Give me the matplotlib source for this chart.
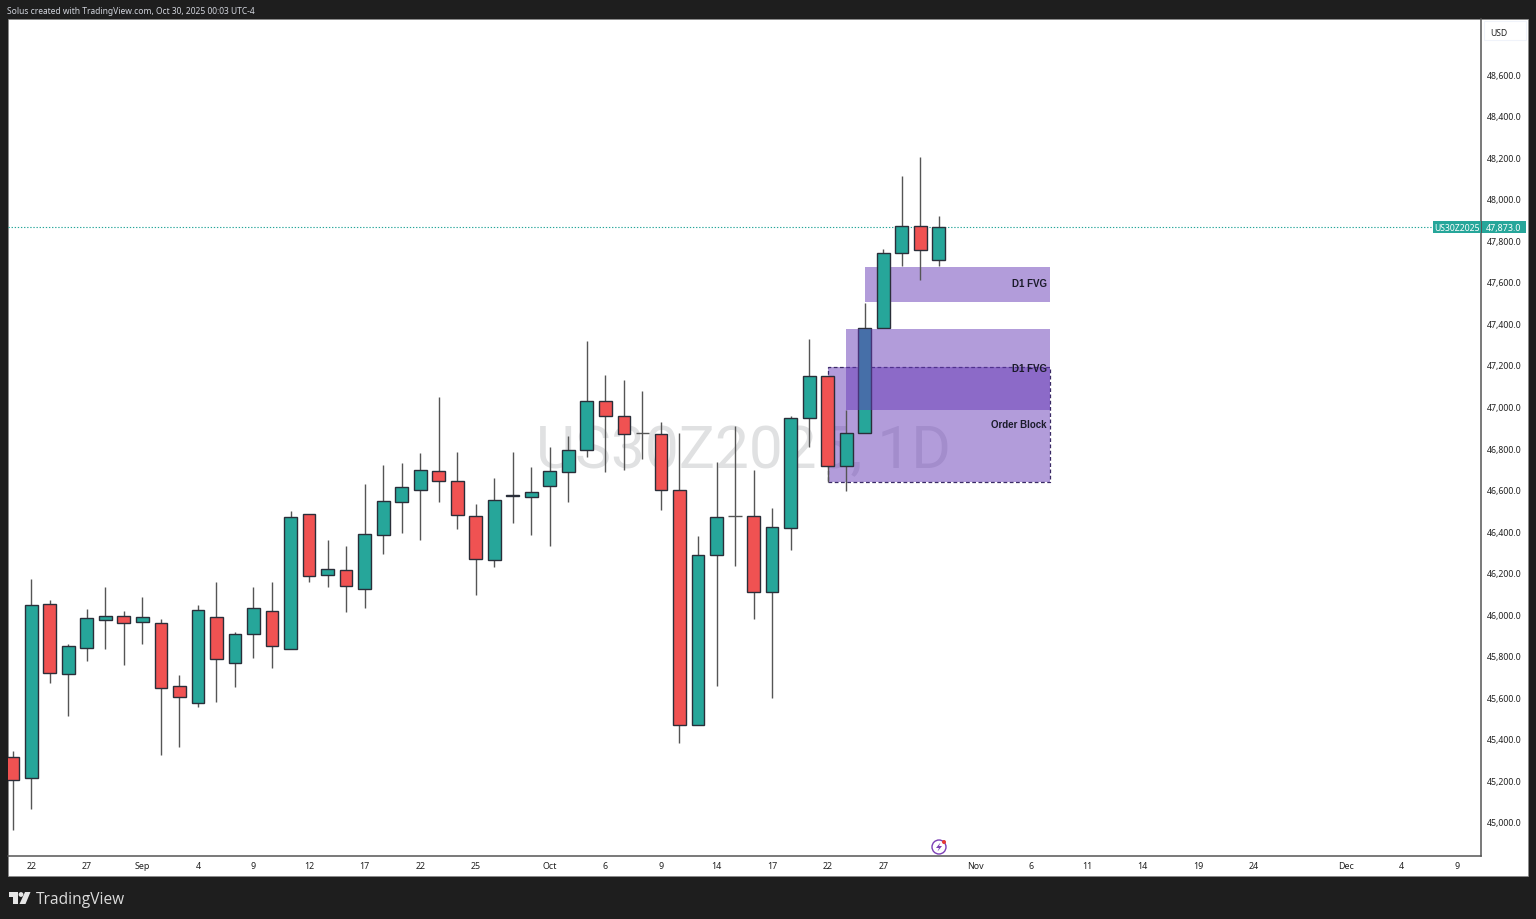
import matplotlib
matplotlib.use("Agg")
import matplotlib.pyplot as plt
from matplotlib.patches import Rectangle, Circle, Polygon
from matplotlib.transforms import Affine2D, ScaledTranslation, blended_transform_factory

# ---- data ----
first_index = -1
opens  = [45318,45217,46055,45718,45843,45978,45997,45968,45963,45660,45578,45992,45771,45910,46021,45838,46488,46195,46219,46127,46387,46546,46604,46695,46647,46479,46267,46575,46570,46623,46691,46796,47032,46960,46876,46874,46604,45472,46291,46479,46479,46113,46421,46951,47153,46719,46878,47384,47745,47875,47711]
highs  = [45347,46175,46074,45862,46031,46137,46021,46089,45983,45713,46050,46161,45920,46137,46161,46503,46488,46363,46334,46633,46724,46734,46782,47052,46787,46536,46662,46787,46715,46811,46864,47321,47158,47134,47081,46931,46878,46382,46739,46912,46700,46517,46960,47331,47153,46989,47504,47764,48116,48207,47923]
lows   = [44966,45068,45674,45516,45780,45838,45761,45862,45328,45366,45559,45583,45655,45795,45747,45838,46161,46137,46016,46036,46296,46397,46363,46546,46416,46098,46233,46445,46387,46334,46546,46763,46691,46700,46753,46508,45385,45472,45660,46238,45983,45602,46315,46811,46642,46599,46878,47384,47683,47615,47683]
closes = [45207,46050,45722,45853,45987,45997,45963,45992,45650,45607,46026,45790,45910,46036,45853,46474,46190,46224,46141,46392,46551,46618,46700,46647,46484,46272,46556,46580,46594,46695,46796,47032,46960,46874,46876,46604,45472,46291,46474,46479,46113,46426,46951,47153,46719,46878,47384,47745,47875,47760,47868]
time_ticks  = [0,3,6,9,12,15,18,21,24,28,31,34,37,40,43,46,51,54,57,60,63,66,71,74,77]
time_labels = ["22","27","Sep","4","9","12","17","22","25","Oct","6","9","14","17","22","27","Nov","6","11","14","19","24","Dec","4","9"]
price_ticks = list(range(45000, 48601, 200))
last_price = 47873
last_line_level = 47868
symbol = "US30Z2025"
fvg_upper = (45, 55, 47507, 47678)
fvg_lower = (44, 55, 46989, 47381)
order_block = (43, 55, 46642, 47196)

# ---- style ----
GREEN, RED = "#26a69a", "#f05252"
EDGE, WICK = "#2a2e39", "#555555"
ZONE = "#673ab7"
DARK = "#1e1e1e"
FONT = ["Noto Sans", "DejaVu Sans"]
plt.rcParams["font.family"] = FONT

W, H = 1536, 920
fig = plt.figure(figsize=(W/100, H/100), dpi=100, facecolor=DARK)
px = Affine2D().scale(1/W, -1/H).translate(0, 1) + fig.transFigure
fig.add_artist(Rectangle((8, 20), 1520, 857, transform=px, fc="white", ec="#8a8a8a", lw=0.5, zorder=-1))

ax = fig.add_axes([8/W, 1-857/H, (1481-8)/W, (857-20)/H], facecolor="none", zorder=1)
ax.set_xlim(-1.255, 78.275)
ax.set_ylim(44841, 48872)
for s in ("top", "left"):
    ax.spines[s].set_visible(False)
for s in ("bottom", "right"):
    ax.spines[s].set_color("#555555")
    ax.spines[s].set_linewidth(1.1)

ax.set_xticks(time_ticks, time_labels)
ax.yaxis.tick_right()
ax.set_yticks(price_ticks, [f"{p:,.1f}" for p in price_ticks])
ax.tick_params(axis="x", length=0, pad=3.8, labelsize=6.4, labelcolor="#222222")
ax.tick_params(axis="y", length=0, pad=4.2, labelsize=6.3, labelcolor="#222222")
up = ScaledTranslation(0, 1.2/100, fig.dpi_scale_trans)
for lab in ax.get_yticklabels():
    lab.set_transform(lab.get_transform() + up)

# watermark
ax.text(0.4995, 46795, f"{symbol}, 1D", transform=blended_transform_factory(ax.transAxes, ax.transData),
        ha="center", va="center", fontsize=43.5, color="#e0e1e2", family="Roboto", zorder=1)

# zones
def zone(z, order):
    ax.add_patch(Rectangle((z[0], z[2]), z[1]-z[0], z[3]-z[2], fc=matplotlib.colors.to_rgba(ZONE, 0.5), lw=0, zorder=order))
zone(order_block, 2)
ax.add_patch(Rectangle((order_block[0], order_block[2]), order_block[1]-order_block[0], order_block[3]-order_block[2],
                       fc="none", ec="#3a2a66", lw=0.9, ls=(0, (3, 2)), zorder=2.1))
zone(fvg_upper, 2)
zone(fvg_lower, 6)

# price line
ax.axhline(last_line_level, xmax=(1433-8)/(1481-8), color=GREEN, lw=0.8, ls=(0, (1.2, 1.6)), zorder=1.5)

# candles
x = [first_index + k for k in range(len(opens))]
colors = [GREEN if c >= o else RED for o, c in zip(opens, closes)]
ax.vlines(x, lows, highs, color=WICK, lw=1.0, zorder=3)
bottoms = [min(o, c) for o, c in zip(opens, closes)]
heights = [abs(c-o) for o, c in zip(opens, closes)]
for xi, b, h, col in zip(x, bottoms, heights, colors):
    ax.bar(xi, h, bottom=b, width=0.69 if h > 0 else 0.72, color=col,
           edgecolor=EDGE if h > 0 else WICK, linewidth=1.0, zorder=4)

# zone labels
tr = blended_transform_factory(fig.transFigure, ax.transData)
label_x = 1046.5/W
kw = dict(transform=tr, ha="right", va="center", fontsize=7.0, fontweight="bold", color="#1b1b2b", zorder=7, family="Liberation Sans")
ax.text(label_x, 47600, "D1 FVG", **kw)
ax.text(label_x, 47191, "D1 FVG", **kw)
ax.text(label_x, 46922, "Order Block", **kw)

# price tags
fig.add_artist(Rectangle((1433, 221.5), 48, 12.5, transform=px, fc=GREEN, lw=0, zorder=10))
fig.add_artist(Rectangle((1481, 221.5), 44.5, 12.5, transform=px, fc=GREEN, lw=0, zorder=10))
fig.add_artist(Rectangle((1480.5, 221.5), 1, 12.5, transform=px, fc="#555555", lw=0, zorder=11))
def ptext(xp, yp, s, **k):
    fig.text(xp/W, 1-yp/H, s, zorder=12, **k)
ptext(1457, 228.3, symbol, ha="center", va="center", fontsize=6.2, color="white", fontweight="medium")
ptext(1503.5, 228.3, f"{last_price:,.1f}", ha="center", va="center", fontsize=6.4, color="white", fontweight="semibold")

# USD box
fig.add_artist(Rectangle((1483.5, 22), 42, 18.5, transform=px, fc="white", ec="#f0f3fa", lw=0.8, zorder=10))
ptext(1490, 33, "USD", ha="left", va="center", fontsize=6.2, color="#222222")

# header / footer
ptext(7, 11.3, "Solus created with TradingView.com, Oct 30, 2025 00:03 UTC-4", ha="left", va="center", fontsize=6.1, color="#d1d4dc")
ptext(36, 900, "TradingView", ha="left", va="center", fontsize=11.2, color="#dcdcdc", fontweight="medium", family="Open Sans")
LOGO = "#e6e6e6"
fig.add_artist(Polygon([(8.5,893),(17.5,893),(17.5,905),(12.5,905),(12.5,898),(8.5,898)], closed=True, transform=px, fc=LOGO, lw=0, zorder=10))
fig.add_artist(Circle((21, 895.5), 2.4, transform=px, fc=LOGO, lw=0, zorder=10))
fig.add_artist(Polygon([(25,893),(30.5,893),(25.5,905),(19.5,905)], closed=True, transform=px, fc=LOGO, lw=0, zorder=10))

# event icon
fig.add_artist(Circle((939, 848), 7, transform=px, fc="white", ec="#7b3fb5", lw=1.0, zorder=10))
fig.add_artist(Polygon([(940.5,843.5),(936,849),(939,849),(937.5,852.5),(942,847),(939,847)], closed=True, transform=px, fc="#7b3fb5", lw=0, zorder=11))
fig.add_artist(Circle((944, 843), 2, transform=px, fc="#e53935", lw=0, zorder=12))

fig.savefig("out.png", dpi=100, facecolor=DARK)
